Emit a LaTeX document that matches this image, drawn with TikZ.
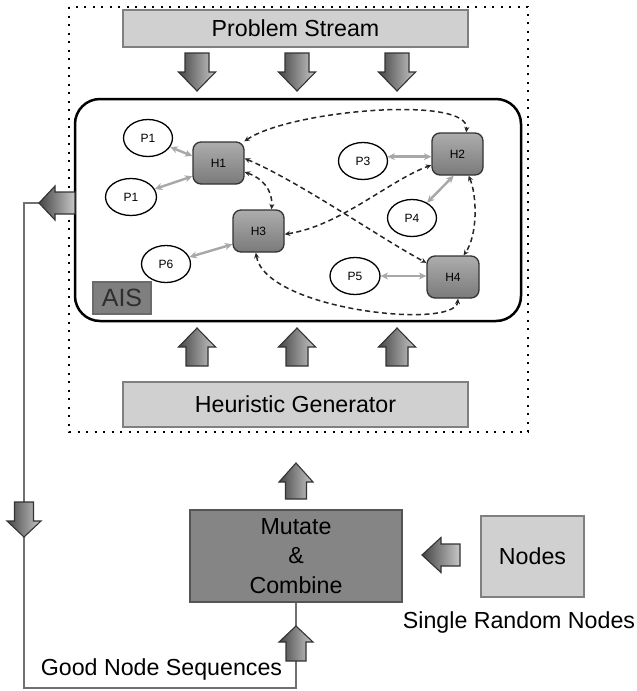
\documentclass[tikz,border=0pt]{standalone}
\usepackage{fontspec}
\setmainfont{Liberation Sans}
\usetikzlibrary{arrows.meta,calc,shapes.geometric}
\definecolor{boxlight}{HTML}{D0D0D0}
\definecolor{boxedge}{HTML}{808080}
\definecolor{hedge}{HTML}{333333}
\definecolor{htop}{HTML}{ADADAD}
\definecolor{hbot}{HTML}{7A7A7A}
\definecolor{garrow}{HTML}{A8A8A8}
\definecolor{barrowedge}{HTML}{333333}
\definecolor{barrowdark}{HTML}{454545}
\definecolor{barrowlight}{HTML}{C8C8C8}
\definecolor{feedgray}{HTML}{707070}
\definecolor{mutfill}{HTML}{858585}
\definecolor{mutedge}{HTML}{555555}
\definecolor{aisfill}{HTML}{7F7F7F}
\definecolor{aisedge}{HTML}{6B6B6B}
\definecolor{aistext}{HTML}{2E2E2E}
\newcommand\arrV[6]{\path[barr] (#1-#5,#2) -- (#1+#5,#2) -- (#1+#5,#3) -- (#1+#6,#3) -- (#1,#4) -- (#1-#6,#3) -- (#1-#5,#3) -- cycle;}
\newcommand\arrH[6]{\path[barr] (#2,#1-#5) -- (#3,#1-#5) -- (#3,#1-#6) -- (#4,#1) -- (#3,#1+#6) -- (#3,#1+#5) -- (#2,#1+#5) -- cycle;}
\begin{document}
\begin{tikzpicture}[x=1pt,y=-1pt,
  big/.style={font=\fontsize{23.2}{29.5}\selectfont},
  small/.style={font=\fontsize{12}{14}\selectfont},
  lbox/.style={draw=boxedge,line width=2pt,fill=boxlight,inner sep=0pt,big},
  hnode/.style={draw=hedge,line width=1.3pt,rounded corners=8pt,top color=htop,bottom color=hbot,minimum width=51pt,minimum height=42pt,inner sep=0pt,small},
  pnode/.style={draw=black,line width=1.3pt,ellipse,fill=white,minimum width=49pt,minimum height=37pt,inner sep=0pt,small},
  garr/.style={draw=garrow,line width=2.4pt,{Stealth[length=7.5pt,width=7pt]}-{Stealth[length=7.5pt,width=7pt]}},
  darr/.style={draw=black!85,line width=1.5pt,dash pattern=on 5pt off 3.5pt,{Stealth[length=5.5pt,width=5pt]}-{Stealth[length=5.5pt,width=5pt]}},
  barr/.style={draw=barrowedge,line width=1.1pt,left color=barrowdark,right color=barrowlight},
  feed/.style={draw=feedgray,line width=1.5pt}]
\useasboundingbox (0,0) rectangle (637,691);
\fill[white] (0,0) rectangle (637,691);

% dotted frame
\draw[dash pattern=on 2pt off 6.5pt, line width=2pt] (69,7) rectangle (528,432);

% boxes
\node[lbox, minimum width=345pt, minimum height=37pt] (ps) at (295.5,28.5) {Problem Stream};
\node[lbox, minimum width=345pt, minimum height=45pt] (hg) at (295.5,404.5) {Heuristic Generator};
\node[draw=black, line width=2.5pt, rounded corners=25pt, minimum width=446pt, minimum height=222pt] (ais) at (298,210) {};
\node[draw=aisedge, line width=1.5pt, fill=aisfill, minimum width=58pt, minimum height=32pt, inner sep=0pt, text=aistext, font=\fontsize{25}{28}\selectfont] (aislab) at (122,298) {AIS};
\node[draw=mutedge, line width=2.5pt, fill=mutfill, minimum width=212pt, minimum height=92pt, inner sep=0pt, align=center, big] (mutate) at (296,556) {Mutate\\\&\\Combine};
\node[draw=boxedge, line width=2pt, fill=boxlight, minimum width=103pt, minimum height=81pt, inner sep=0pt, big] (nodes) at (532.5,556.5) {Nodes};
\node[big] (srn) at (519,622) {Single Random Nodes};
\node[big] (gns) at (161.5,669) {Good Node Sequences};

% heuristics and problems
\node[hnode] (H1) at (218.5,163) {H1};
\node[hnode] (H2) at (457.5,154) {H2};
\node[hnode] (H3) at (258.5,231) {H3};
\node[hnode, minimum width=52pt] (H4) at (453,277) {H4};
\node[pnode] (P1a) at (148,138) {P1};
\node[pnode, minimum width=51pt] (P1b) at (131,197) {P1};
\node[pnode] (P3) at (363,161) {P3};
\node[pnode] (P4) at (412,218) {P4};
\node[pnode, minimum width=50pt] (P5) at (355,276) {P5};
\node[pnode] (P6) at (166,264) {P6};

% gray links
\draw[garr] (P1a) -- (H1.165);
\draw[garr] (P1b) -- (H1.207);
\draw[garr] (P6) -- (H3.207);
\draw[garr] (P3.10) -- (P3.10 -| H2.west);
\draw[garr] (P4) -- (H2.260);
\draw[garr] (P5.east) -- (P5.east -| H4.west);

% dashed links
\draw[darr] (H1.40) .. controls (290,110) and (470,95) .. (H2.68);
\draw[darr] (H1.10) .. controls (300,182) and (380,238) .. (H4.152);
\draw[darr] (H1.-19) .. controls (262,178) and (273,190) .. (H3.59);
\draw[darr] (H3.-7) .. controls (340,226) and (390,180) .. (H2.203);
\draw[darr] (H3.263) .. controls (265,310) and (455,330) .. (H4.283);
\draw[darr] (H2.-63) .. controls (477,195) and (478,235) .. (H4.64);

% feedback line
\coordinate (fbtip) at (39,203);
\coordinate (fbcorner) at (24,203);
\coordinate (fbbottom) at (24,688);
\draw[feed] (fbtip) -- (fbcorner) -- (fbbottom) -| (mutate.south);

% block arrows
\arrV{197}{53}{72}{91}{12}{18.5}
\arrV{297}{53}{72}{91}{12}{18.5}
\arrV{397}{53}{72}{91}{12}{18.5}
\arrV{197}{366}{347}{328}{11}{18.5}
\arrV{297}{366}{347}{328}{11}{18.5}
\arrV{397}{366}{347}{328}{11}{18.5}
\arrV{296}{499}{482}{463}{10.5}{17}
\arrV{296}{661}{642}{626}{10}{17}
\arrV{24}{502}{521}{537}{9.5}{17}
\arrH{203}{75}{55}{39}{11}{17}
\arrH{555}{460}{441}{422}{11}{17.5}
\end{tikzpicture}
\end{document}
